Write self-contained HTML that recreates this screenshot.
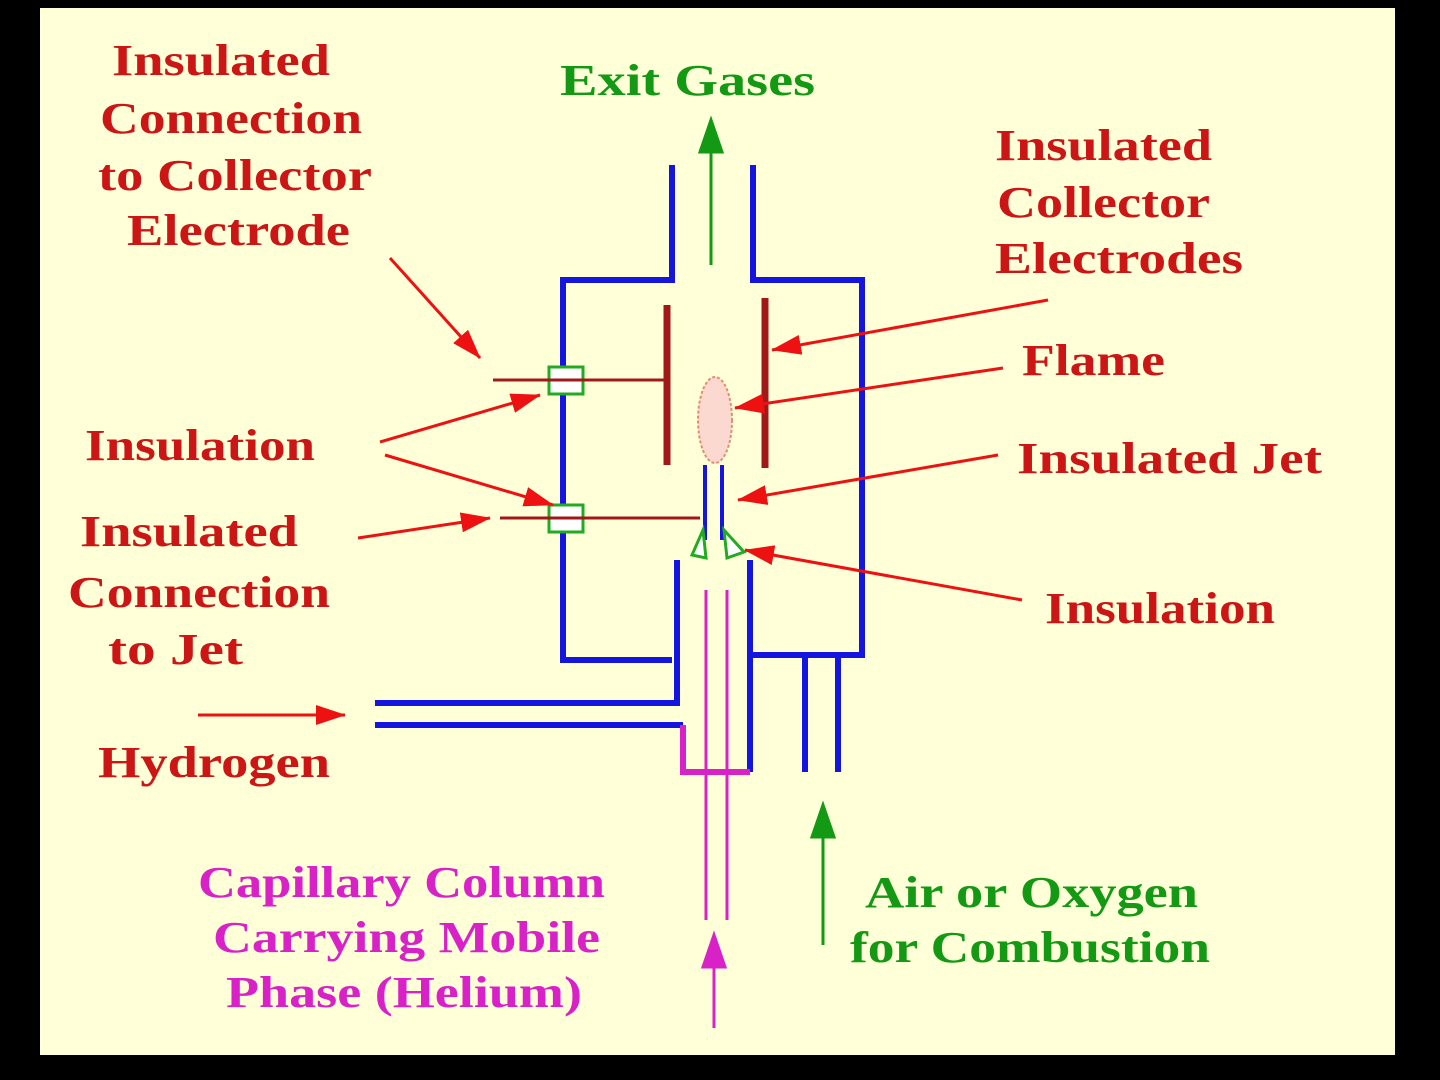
<!DOCTYPE html>
<html><head><meta charset="utf-8"><style>
html,body{margin:0;padding:0;background:#000;}
svg{display:block}
text{font-family:"Liberation Serif",serif;font-weight:bold;font-size:44px}
.r{fill:#cc1515}.g{fill:#149914}.m{fill:#d822c8}
</style></head><body>
<svg width="1440" height="1080" viewBox="0 0 1440 1080" xmlns="http://www.w3.org/2000/svg">
<defs>
<marker id="ar" viewBox="0 0 30 20" refX="29" refY="10" markerWidth="30" markerHeight="20" markerUnits="userSpaceOnUse" orient="auto"><path d="M0,0 L30,10 L0,20 z" fill="#ee1111"/></marker>
</defs>
<rect x="0" y="0" width="1440" height="1080" fill="#000"/>
<rect x="40" y="8" width="1355" height="1047" fill="#ffffd8"/>
<g fill="none" stroke="#1515e0" stroke-width="6">
<polyline points="672,165 672,280 563,280 563,660 672,660"/>
<polyline points="753,165 753,280 862,280 862,655 753,655"/>
<polyline points="375,703 677,703 677,560"/>
<polyline points="375,725 683,725"/>
<line x1="750" y1="560" x2="750" y2="772"/>
<line x1="805" y1="655" x2="805" y2="772"/>
<line x1="838" y1="655" x2="838" y2="772"/>
</g>
<polyline points="683,725 683,772 750,772" fill="none" stroke="#d822c8" stroke-width="6"/>
<g stroke="#d822c8" stroke-width="3"><line x1="706" y1="590" x2="706" y2="920"/><line x1="727" y1="590" x2="727" y2="920"/></g>
<g stroke="#1515e0" stroke-width="4"><line x1="705" y1="465" x2="705" y2="540"/><line x1="722" y1="465" x2="722" y2="540"/></g>
<g fill="#fff" stroke="#22aa22" stroke-width="3">
<path d="M703,530 L692,555 L706,558 z"/><path d="M724,530 L744,552 L727,558 z"/>
<rect x="549" y="367" width="34" height="27"/><rect x="549" y="505" width="34" height="27"/>
</g>
<g stroke="#a01818" stroke-width="7"><line x1="667" y1="305" x2="667" y2="465"/><line x1="765" y1="298" x2="765" y2="468"/></g>
<g stroke="#a01818" stroke-width="3"><line x1="493" y1="380" x2="667" y2="380"/><line x1="500" y1="518" x2="700" y2="518"/></g>
<ellipse cx="715" cy="420" rx="17" ry="43" fill="#fbd8d0" stroke="#e09070" stroke-width="2" stroke-dasharray="3,2"/>
<g stroke="#149914" stroke-width="3" fill="#149914">
<line x1="711" y1="265" x2="711" y2="145"/><path d="M700,152 L711,120 L722,152 z"/>
<line x1="823" y1="945" x2="823" y2="830"/><path d="M812,837 L823,805 L834,837 z"/>
</g>
<g stroke="#d822c8" stroke-width="3" fill="#d822c8"><line x1="714" y1="1028" x2="714" y2="960"/><path d="M703,967 L714,935 L725,967 z"/></g>
<g stroke="#ee1111" stroke-width="3" marker-end="url(#ar)">
<line x1="390" y1="258" x2="480" y2="358"/>
<line x1="380" y1="442" x2="540" y2="395"/>
<line x1="385" y1="455" x2="553" y2="505"/>
<line x1="358" y1="538" x2="490" y2="518"/>
<line x1="198" y1="715" x2="345" y2="715"/>
<line x1="1048" y1="300" x2="772" y2="350"/>
<line x1="1003" y1="368" x2="735" y2="408"/>
<line x1="998" y1="455" x2="738" y2="500"/>
<line x1="1022" y1="600" x2="745" y2="550"/>
</g>
<g class="r">
<text x="112" y="75" textLength="218" lengthAdjust="spacingAndGlyphs">Insulated</text>
<text x="100" y="133" textLength="262" lengthAdjust="spacingAndGlyphs">Connection</text>
<text x="98" y="190" textLength="274" lengthAdjust="spacingAndGlyphs">to Collector</text>
<text x="127" y="245" textLength="223" lengthAdjust="spacingAndGlyphs">Electrode</text>
<text x="995" y="160" textLength="217" lengthAdjust="spacingAndGlyphs">Insulated</text>
<text x="997" y="217" textLength="213" lengthAdjust="spacingAndGlyphs">Collector</text>
<text x="995" y="273" textLength="248" lengthAdjust="spacingAndGlyphs">Electrodes</text>
<text x="1022" y="375" textLength="143" lengthAdjust="spacingAndGlyphs">Flame</text>
<text x="1017" y="473" textLength="305" lengthAdjust="spacingAndGlyphs">Insulated Jet</text>
<text x="1045" y="623" textLength="230" lengthAdjust="spacingAndGlyphs">Insulation</text>
<text x="85" y="460" textLength="230" lengthAdjust="spacingAndGlyphs">Insulation</text>
<text x="80" y="546" textLength="218" lengthAdjust="spacingAndGlyphs">Insulated</text>
<text x="68" y="607" textLength="262" lengthAdjust="spacingAndGlyphs">Connection</text>
<text x="108" y="664" textLength="135" lengthAdjust="spacingAndGlyphs">to Jet</text>
<text x="98" y="777" textLength="232" lengthAdjust="spacingAndGlyphs">Hydrogen</text>
</g>
<g class="g">
<text x="560" y="95" textLength="255" lengthAdjust="spacingAndGlyphs">Exit Gases</text>
<text x="865" y="907" textLength="333" lengthAdjust="spacingAndGlyphs">Air or Oxygen</text>
<text x="850" y="962" textLength="360" lengthAdjust="spacingAndGlyphs">for Combustion</text>
</g>
<g class="m">
<text x="198" y="897" textLength="407" lengthAdjust="spacingAndGlyphs">Capillary Column</text>
<text x="213" y="952" textLength="387" lengthAdjust="spacingAndGlyphs">Carrying Mobile</text>
<text x="226" y="1007" textLength="356" lengthAdjust="spacingAndGlyphs">Phase (Helium)</text>
</g>
</svg>
</body></html>
